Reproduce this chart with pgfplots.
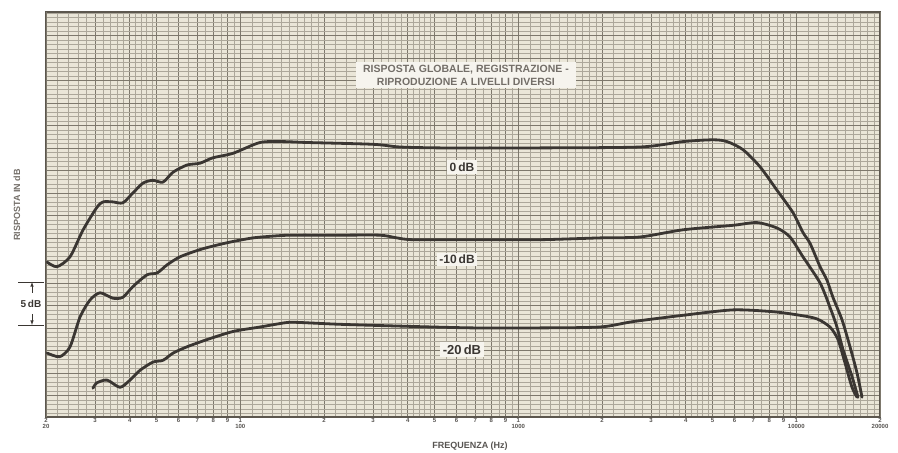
\documentclass[border=0pt]{standalone}
\usepackage{fontspec}
\setmainfont{Liberation Sans}
\usepackage{pgfplots}
\pgfplotsset{compat=1.18}

\definecolor{paper}{RGB}{234,230,216}
\definecolor{gheavy}{RGB}{92,87,78}
\definecolor{gmed}{RGB}{125,120,108}
\definecolor{gfine}{RGB}{172,167,154}
\definecolor{ink}{RGB}{58,54,50}
\definecolor{titlegray}{RGB}{115,110,104}
\definecolor{boxfill}{RGB}{246,244,238}

\pgfplotsset{curve/.style={ink, no markers, line width=2.8pt, line join=round, line cap=round, smooth, tension=0.45}}

\begin{document}
\begin{tikzpicture}
\useasboundingbox (0,0) rectangle (898pt,453pt);
\begin{axis}[
    at={(46pt,36pt)}, anchor=south west,
    width=834pt, height=405pt, scale only axis,
    xmode=log, log basis x=10,
    xmin=20, xmax=20000,
    ymin=-29.9, ymax=15.1,
    axis background/.style={fill=paper},
    axis line style={gheavy, line width=1.2pt},
    major tick length=0pt, minor tick length=0pt,
    grid=both,
    major grid style={gmed, line width=0.6pt},
    minor grid style={gfine, line width=0.3pt},
    xtick={30,40,50,60,70,80,90,200,300,400,500,600,700,800,900,2000,3000,4000,5000,6000,7000,8000,9000},
    xticklabels={3,4,5,6,7,8,9,2,3,4,5,6,7,8,9,2,3,4,5,6,7,8,9},
    minor xtick={22,24,26,28,32,34,36,38,42,44,46,48,55,65,75,85,95,
      110,120,130,140,150,160,170,180,190,220,240,260,280,320,340,360,380,420,440,460,480,550,650,750,850,950,
      1100,1200,1300,1400,1500,1600,1700,1800,1900,2200,2400,2600,2800,3200,3400,3600,3800,4200,4400,4600,4800,5500,6500,7500,8500,9500,
      11000,12000,13000,14000,15000,16000,17000,18000,19000},
    extra x ticks={20,100,1000,10000,20000},
    extra x tick labels={2\\20,1\\100,1\\1000,1\\10000,2\\20000},
    extra x tick style={grid style={gheavy, line width=1.1pt}},
    ytick={-27.5,-25,-22.5,-17.5,-15,-12.5,-7.5,-5,-2.5,2.5,5,7.5,12.5},
    yticklabels={},
    minor ytick={-29.5,-29,...,15},
    extra y ticks={-20,-10,0,10},
    extra y tick labels={},
    extra y tick style={grid style={gheavy, line width=1.1pt}},
    xticklabel style={font=\fontsize{6}{5.5}\selectfont\bfseries, text=ink!85, align=center, inner sep=1.5pt, anchor=north},
    clip=false,
]

% 0 dB
\addplot[curve] coordinates {
(20.2,-12.7)(21.9,-13.2)(24.4,-12.1)(27.2,-9.1)(30.5,-6.6)(32.1,-6.0)(34.8,-6.0)
(37.8,-6.1)(41.1,-5.0)(44.7,-3.9)(48.5,-3.6)(52.7,-3.8)(57.3,-2.7)(64.3,-1.9)
(71.6,-1.7)(79.7,-1.1)(94.1,-0.6)(117.7,0.6)(142.4,0.7)(173.8,0.6)(300,0.4)
(375,0.1)(523,0)(791,0)(1197,0)(2739,0.1)(3912,0.7)(5017,0.9)(5633,0.7)
(6431,-0.2)(7403,-2.1)(8518,-4.7)(9729,-7.2)(10565,-9.4)(11200,-10.6)
(12170,-13.2)(12890,-14.7)(13540,-16.6)(14600,-19.1)(15600,-22.1)
(16530,-25.0)(17230,-27.7)
};

% -10 dB
\addplot[curve] coordinates {
(20.2,-22.8)(22.4,-23.2)(24.4,-22.1)(26.5,-18.8)(28.8,-16.9)(31.3,-16.1)
(34.8,-16.7)(37.8,-16.6)(41.1,-15.4)(46.2,-14.1)(50.2,-13.9)(54.5,-13.0)
(60.7,-12.1)(71.6,-11.3)(82.4,-10.8)(94.1,-10.4)(111.1,-10.0)(131.1,-9.8)
(152,-9.7)(228,-9.7)(318,-9.7)(366,-10.0)(418,-10.2)(687,-10.2)(1197,-10.2)
(1967,-10.0)(2739,-9.9)(3912,-9.1)(5918,-8.6)(7221,-8.3)(8518,-8.9)
(9491,-9.9)(10565,-12.1)(12170,-15.0)(13210,-17.7)(14000,-19.9)
(14720,-22.4)(15860,-25.4)(16670,-27.7)
};

% -20 dB
\addplot[curve] coordinates {
(29.5,-26.7)(30.5,-26.1)(33.2,-25.8)(36.9,-26.6)(40.1,-25.8)(43.6,-24.7)
(48.5,-23.8)(52.7,-23.6)(57.3,-22.8)(64.3,-22.1)(75.9,-21.3)(94.1,-20.4)
(117.7,-19.9)(147.2,-19.4)(163.9,-19.4)(228,-19.6)(375,-19.8)(687,-20.0)
(1197,-20.0)(1967,-19.9)(2586,-19.3)(3912,-18.6)(5918,-18.0)(8241,-18.2)
(10305,-18.6)(11870,-19.0)(13210,-19.9)(14120,-21.3)(14970,-23.9)
(15860,-26.6)(16530,-27.7)
};

\node[fill=boxfill, inner xsep=7pt, inner ysep=3pt, align=center,
      font=\fontsize{10.5}{13}\selectfont\bfseries, text=titlegray]
  at (axis cs:648,8.1) {RISPOSTA GLOBALE, REGISTRAZIONE -\\RIPRODUZIONE A LIVELLI DIVERSI};
\node[fill=boxfill, inner sep=2.5pt, font=\fontsize{12}{12}\selectfont\bfseries, text=ink]
  at (axis cs:627,-2.1) {0\,dB};
\node[fill=boxfill, inner sep=2.5pt, font=\fontsize{12}{12}\selectfont\bfseries, text=ink]
  at (axis cs:602,-12.4) {-10\,dB};
\node[fill=boxfill, inner sep=2.5pt, font=\fontsize{13}{13}\selectfont\bfseries, text=ink]
  at (axis cs:627,-22.4) {-20\,dB};
\end{axis}

\node[rotate=90, font=\fontsize{9}{9}\selectfont\bfseries, text=titlegray] at (17pt,248pt) {RISPOSTA IN dB};
\draw[ink, line width=0.7pt] (18pt,171pt) -- (44pt,171pt);
\draw[ink, line width=0.7pt] (18pt,128pt) -- (44pt,128pt);
\draw[ink, line width=0.6pt, -latex] (32pt,160pt) -- (32pt,171pt);
\draw[ink, line width=0.6pt, -latex] (32pt,139pt) -- (32pt,128pt);
\node[font=\fontsize{10}{10}\selectfont\bfseries, text=ink] at (31pt,149.5pt) {5\,dB};
\node[font=\fontsize{9}{9}\selectfont\bfseries, text=ink!85] at (470pt,7pt) {FREQUENZA (Hz)};
\end{tikzpicture}
\end{document}
